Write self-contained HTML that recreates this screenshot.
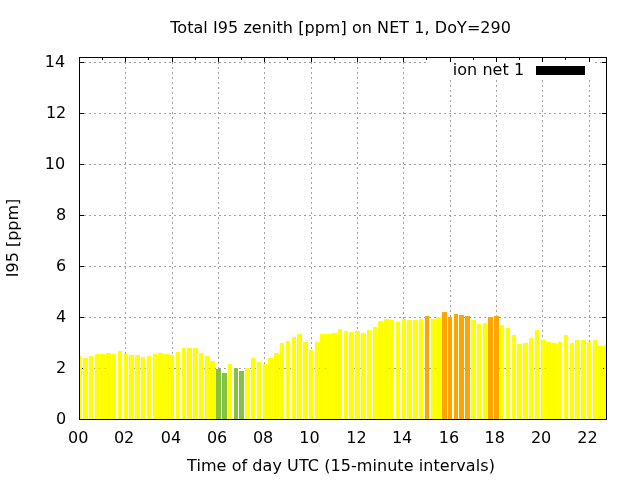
<!DOCTYPE html>
<html lang="en"><head><meta charset="utf-8"><title>Total I95 zenith [ppm] on NET 1, DoY=290</title>
<style>html,body{margin:0;padding:0;background:#fff;width:640px;height:480px;overflow:hidden}svg{display:block;position:absolute;left:0;top:0}text{font-family:"DejaVu Sans","Liberation Sans",sans-serif;font-size:16px;fill:#000}.g line{stroke:#a0a0a0;stroke-width:1;stroke-dasharray:2 3}.t rect{fill:#000}.y rect{fill:#ff0}.gr rect{fill:#83c341}.or rect{fill:#ffa500}</style></head><body>
<svg width="640" height="480" viewBox="0 0 640 480">
<rect width="640" height="480" fill="#fff"/>
<g class="g" shape-rendering="crispEdges">
<line x1="79" y1="368.5" x2="607" y2="368.5"/>
<line x1="79" y1="317.5" x2="607" y2="317.5"/>
<line x1="79" y1="266.5" x2="607" y2="266.5"/>
<line x1="79" y1="215.5" x2="607" y2="215.5"/>
<line x1="79" y1="164.5" x2="607" y2="164.5"/>
<line x1="79" y1="113.5" x2="607" y2="113.5"/>
<line x1="79" y1="62.5" x2="427" y2="62.5"/>
<line x1="595" y1="62.5" x2="607" y2="62.5"/>
<line x1="125.5" y1="57" x2="125.5" y2="420"/>
<line x1="172.5" y1="57" x2="172.5" y2="420"/>
<line x1="218.5" y1="57" x2="218.5" y2="420"/>
<line x1="264.5" y1="57" x2="264.5" y2="420"/>
<line x1="311.5" y1="57" x2="311.5" y2="420"/>
<line x1="357.5" y1="57" x2="357.5" y2="420"/>
<line x1="403.5" y1="57" x2="403.5" y2="420"/>
<line x1="450.5" y1="57" x2="450.5" y2="62"/>
<line x1="450.5" y1="80" x2="450.5" y2="420"/>
<line x1="496.5" y1="57" x2="496.5" y2="62"/>
<line x1="496.5" y1="80" x2="496.5" y2="420"/>
<line x1="542.5" y1="57" x2="542.5" y2="62"/>
<line x1="542.5" y1="80" x2="542.5" y2="420"/>
<line x1="589.5" y1="57" x2="589.5" y2="62"/>
<line x1="589.5" y1="80" x2="589.5" y2="420"/>
</g>
<g class="t" shape-rendering="crispEdges">
<rect x="80" y="368" width="4" height="1"/><rect x="602" y="368" width="4" height="1"/>
<rect x="80" y="317" width="4" height="1"/><rect x="602" y="317" width="4" height="1"/>
<rect x="80" y="266" width="4" height="1"/><rect x="602" y="266" width="4" height="1"/>
<rect x="80" y="215" width="4" height="1"/><rect x="602" y="215" width="4" height="1"/>
<rect x="80" y="164" width="4" height="1"/><rect x="602" y="164" width="4" height="1"/>
<rect x="80" y="113" width="4" height="1"/><rect x="602" y="113" width="4" height="1"/>
<rect x="80" y="62" width="4" height="1"/><rect x="602" y="62" width="4" height="1"/>
<rect x="102" y="58" width="1" height="2"/><rect x="102" y="417" width="1" height="2"/>
<rect x="125" y="58" width="1" height="4"/><rect x="125" y="415" width="1" height="4"/>
<rect x="148" y="58" width="1" height="2"/><rect x="148" y="417" width="1" height="2"/>
<rect x="172" y="58" width="1" height="4"/><rect x="172" y="415" width="1" height="4"/>
<rect x="195" y="58" width="1" height="2"/><rect x="195" y="417" width="1" height="2"/>
<rect x="218" y="58" width="1" height="4"/><rect x="218" y="415" width="1" height="4"/>
<rect x="241" y="58" width="1" height="2"/><rect x="241" y="417" width="1" height="2"/>
<rect x="264" y="58" width="1" height="4"/><rect x="264" y="415" width="1" height="4"/>
<rect x="287" y="58" width="1" height="2"/><rect x="287" y="417" width="1" height="2"/>
<rect x="311" y="58" width="1" height="4"/><rect x="311" y="415" width="1" height="4"/>
<rect x="334" y="58" width="1" height="2"/><rect x="334" y="417" width="1" height="2"/>
<rect x="357" y="58" width="1" height="4"/><rect x="357" y="415" width="1" height="4"/>
<rect x="380" y="58" width="1" height="2"/><rect x="380" y="417" width="1" height="2"/>
<rect x="403" y="58" width="1" height="4"/><rect x="403" y="415" width="1" height="4"/>
<rect x="426" y="58" width="1" height="2"/><rect x="426" y="417" width="1" height="2"/>
<rect x="450" y="58" width="1" height="4"/><rect x="450" y="415" width="1" height="4"/>
<rect x="473" y="58" width="1" height="2"/><rect x="473" y="417" width="1" height="2"/>
<rect x="496" y="58" width="1" height="4"/><rect x="496" y="415" width="1" height="4"/>
<rect x="519" y="58" width="1" height="2"/><rect x="519" y="417" width="1" height="2"/>
<rect x="542" y="58" width="1" height="4"/><rect x="542" y="415" width="1" height="4"/>
<rect x="565" y="58" width="1" height="2"/><rect x="565" y="417" width="1" height="2"/>
<rect x="589" y="58" width="1" height="4"/><rect x="589" y="415" width="1" height="4"/>
</g>
<g class="y" shape-rendering="crispEdges"><rect x="80" y="356" width="2" height="63"/><rect x="83" y="358" width="5" height="61"/><rect x="89" y="356" width="4" height="63"/><rect x="95" y="354" width="4" height="65"/><rect x="100" y="354" width="5" height="65"/><rect x="106" y="353" width="5" height="66"/><rect x="112" y="354" width="4" height="65"/><rect x="118" y="351" width="4" height="68"/><rect x="124" y="354" width="4" height="65"/><rect x="129" y="355" width="5" height="64"/><rect x="135" y="355" width="5" height="64"/><rect x="141" y="357" width="4" height="62"/><rect x="147" y="356" width="4" height="63"/><rect x="153" y="354" width="4" height="65"/><rect x="158" y="353" width="5" height="66"/><rect x="164" y="354" width="5" height="65"/><rect x="170" y="355" width="4" height="64"/><rect x="176" y="352" width="4" height="67"/><rect x="182" y="348" width="4" height="71"/><rect x="187" y="348" width="5" height="71"/><rect x="193" y="348" width="5" height="71"/><rect x="199" y="353" width="4" height="66"/><rect x="205" y="356" width="4" height="63"/><rect x="210" y="361" width="5" height="58"/><rect x="228" y="364" width="4" height="55"/><rect x="245" y="368" width="5" height="51"/><rect x="251" y="358" width="4" height="61"/><rect x="257" y="362" width="4" height="57"/><rect x="263" y="364" width="4" height="55"/><rect x="268" y="358" width="5" height="61"/><rect x="274" y="353" width="5" height="66"/><rect x="280" y="343" width="4" height="76"/><rect x="286" y="341" width="4" height="78"/><rect x="292" y="337" width="4" height="82"/><rect x="297" y="334" width="5" height="85"/><rect x="303" y="342" width="5" height="77"/><rect x="309" y="350" width="4" height="69"/><rect x="315" y="342" width="4" height="77"/><rect x="320" y="334" width="5" height="85"/><rect x="326" y="334" width="5" height="85"/><rect x="332" y="333" width="5" height="86"/><rect x="338" y="329" width="4" height="90"/><rect x="344" y="331" width="4" height="88"/><rect x="349" y="332" width="5" height="87"/><rect x="355" y="331" width="5" height="88"/><rect x="361" y="333" width="5" height="86"/><rect x="367" y="330" width="4" height="89"/><rect x="373" y="327" width="4" height="92"/><rect x="378" y="321" width="5" height="98"/><rect x="384" y="319" width="5" height="100"/><rect x="390" y="320" width="4" height="99"/><rect x="396" y="322" width="4" height="97"/><rect x="402" y="319" width="4" height="100"/><rect x="407" y="320" width="5" height="99"/><rect x="413" y="320" width="5" height="99"/><rect x="419" y="319" width="4" height="100"/><rect x="431" y="319" width="4" height="100"/><rect x="436" y="317" width="5" height="102"/><rect x="471" y="320" width="5" height="99"/><rect x="477" y="324" width="4" height="95"/><rect x="483" y="323" width="4" height="96"/><rect x="500" y="325" width="4" height="94"/><rect x="506" y="328" width="4" height="91"/><rect x="512" y="335" width="4" height="84"/><rect x="517" y="344" width="5" height="75"/><rect x="523" y="343" width="5" height="76"/><rect x="529" y="338" width="4" height="81"/><rect x="535" y="330" width="4" height="89"/><rect x="541" y="340" width="4" height="79"/><rect x="546" y="342" width="5" height="77"/><rect x="552" y="343" width="5" height="76"/><rect x="558" y="342" width="4" height="77"/><rect x="564" y="335" width="4" height="84"/><rect x="570" y="343" width="4" height="76"/><rect x="575" y="340" width="5" height="79"/><rect x="581" y="340" width="5" height="79"/><rect x="587" y="342" width="4" height="77"/><rect x="593" y="340" width="4" height="79"/><rect x="598" y="346" width="5" height="73"/><rect x="604" y="345" width="2" height="74"/></g>
<g class="gr" shape-rendering="crispEdges"><rect x="216" y="369" width="5" height="50"/><rect x="222" y="373" width="5" height="46"/><rect x="234" y="368" width="4" height="51"/><rect x="239" y="371" width="5" height="48"/></g>
<g class="or" shape-rendering="crispEdges"><rect x="425" y="316" width="4" height="103"/><rect x="442" y="312" width="5" height="107"/><rect x="448" y="317" width="4" height="102"/><rect x="454" y="314" width="4" height="105"/><rect x="459" y="315" width="5" height="104"/><rect x="465" y="316" width="5" height="103"/><rect x="488" y="317" width="5" height="102"/><rect x="494" y="316" width="5" height="103"/></g>
<rect x="79.5" y="57.5" width="527" height="362" fill="none" stroke="#000" stroke-width="1" shape-rendering="crispEdges"/>
<rect x="536" y="66" width="49" height="9" fill="#000" shape-rendering="crispEdges"/>
<text x="452.8" y="75" textLength="71.3" lengthAdjust="spacing">ion net 1</text>
<text x="170.2" y="32.8" textLength="340.8" lengthAdjust="spacing">Total I95 zenith [ppm] on NET 1, DoY=290</text>
<text x="187.1" y="470.6" textLength="307.8" lengthAdjust="spacing">Time of day UTC (15-minute intervals)</text>
<text transform="translate(18,238) rotate(-90)" text-anchor="middle">I95 [ppm]</text>
<text x="66.3" y="424.2" text-anchor="end">0</text>
<text x="66.3" y="373.2" text-anchor="end">2</text>
<text x="66.3" y="322.2" text-anchor="end">4</text>
<text x="66.3" y="271.2" text-anchor="end">6</text>
<text x="66.3" y="220.2" text-anchor="end">8</text>
<text x="65.2" y="169.2" text-anchor="end">10</text>
<text x="66.3" y="118.2" text-anchor="end">12</text>
<text x="65.2" y="67.2" text-anchor="end">14</text>
<text x="78.2" y="443" text-anchor="middle">00</text>
<text x="124.1" y="443" text-anchor="middle">02</text>
<text x="170.9" y="443" text-anchor="middle">04</text>
<text x="217.1" y="443" text-anchor="middle">06</text>
<text x="263.1" y="443" text-anchor="middle">08</text>
<text x="309.4" y="443" text-anchor="middle">10</text>
<text x="356.4" y="443" text-anchor="middle">12</text>
<text x="402.1" y="443" text-anchor="middle">14</text>
<text x="449.0" y="443" text-anchor="middle">16</text>
<text x="494.8" y="443" text-anchor="middle">18</text>
<text x="541.1" y="443" text-anchor="middle">20</text>
<text x="587.4" y="443" text-anchor="middle">22</text>
</svg></body></html>
